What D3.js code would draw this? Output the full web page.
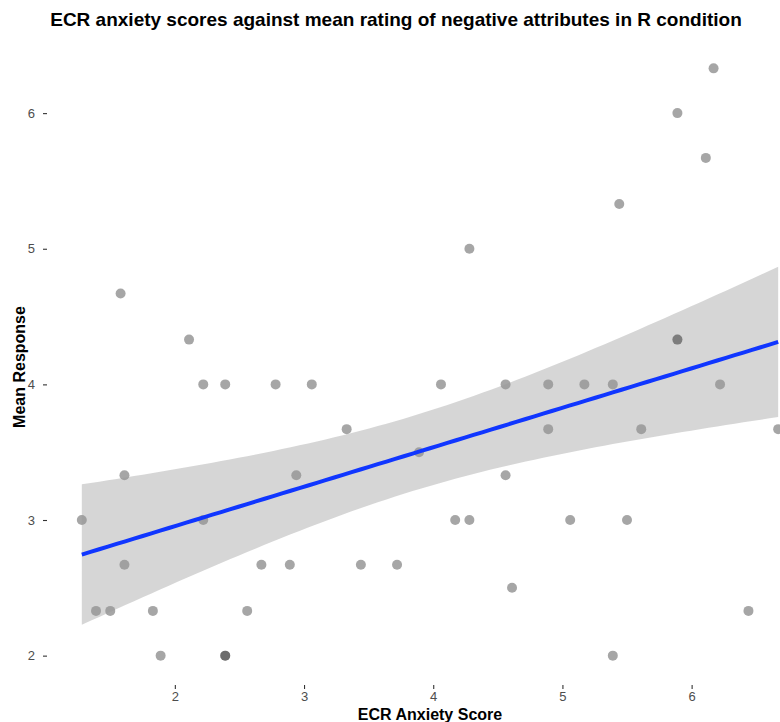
<!DOCTYPE html>
<html>
<head>
<meta charset="utf-8">
<script src="https://cdn.jsdelivr.net/npm/d3@7"></script>
<style>
  html, body { margin: 0; padding: 0; background: #ffffff; }
  svg { display: block; font-family: "Liberation Sans", Arial, Helvetica, sans-serif; }
</style>
</head>
<body>
<svg id="chart" width="780" height="722"></svg>
<script>
// ECR anxiety score for each participant
const anxietyScores = [
  1.28, 1.39, 1.50, 1.58, 1.61, 1.61, 1.83, 1.89, 2.11, 2.22,
  2.22, 2.39, 2.39, 2.39, 2.56, 2.67, 2.78, 2.89, 2.94, 3.06,
  3.33, 3.44, 3.72, 3.89, 4.06, 4.17, 4.28, 4.28, 4.56, 4.56,
  4.61, 4.89, 4.89, 5.06, 5.17, 5.39, 5.39, 5.44, 5.50, 5.61,
  5.89, 5.89, 5.89, 6.11, 6.17, 6.22, 6.44, 6.67
];
// Mean rating of negative attributes (R condition), same order
const meanResponses = [
  3.00, 2.33, 2.33, 4.67, 3.33, 2.67, 2.33, 2.00, 4.33, 3.00,
  4.00, 4.00, 2.00, 2.00, 2.33, 2.67, 4.00, 2.67, 3.33, 4.00,
  3.67, 2.67, 2.67, 3.50, 4.00, 3.00, 5.00, 3.00, 4.00, 3.33,
  2.50, 4.00, 3.67, 3.00, 4.00, 4.00, 2.00, 5.33, 3.00, 3.67,
  6.00, 4.33, 4.33, 5.67, 6.33, 4.00, 2.33, 3.67
];
const xTicks = [2, 3, 4, 5, 6];
const yTicks = [2, 3, 4, 5, 6];

const titleText = "ECR anxiety scores against mean rating of negative attributes in R condition";
const xTitle = "ECR Anxiety Score";
const yTitle = "Mean Response";

const points = anxietyScores.map((x, i) => ({ x, y: meanResponses[i] }));

// Ordinary least squares fit with a 95% confidence band
const n = points.length;
const xbar = d3.mean(points, d => d.x);
const ybar = d3.mean(points, d => d.y);
const sxx = d3.sum(points, d => (d.x - xbar) ** 2);
const sxy = d3.sum(points, d => (d.x - xbar) * (d.y - ybar));
const slope = sxy / sxx;
const intercept = ybar - slope * xbar;
const sse = d3.sum(points, d => (d.y - (intercept + slope * d.x)) ** 2);
const sigma = Math.sqrt(sse / (n - 2));
const tCrit = 2.0129; // t(0.975, df = 46)

const [xMin, xMax] = d3.extent(points, d => d.x);
const [yMin, yMax] = d3.extent(points, d => d.y);
const fit = d3.range(0, 81).map(i => {
  const x = xMin + (xMax - xMin) * i / 80;
  const yhat = intercept + slope * x;
  const se = sigma * Math.sqrt(1 / n + (x - xbar) ** 2 / sxx);
  return { x, yhat, lo: yhat - tCrit * se, hi: yhat + tCrit * se };
});

// Panel geometry with 5% padding on each data range
const panel = { left: 47, right: 813, top: 39, bottom: 685 };
const xPad = (xMax - xMin) * 0.05;
const yPad = (yMax - yMin) * 0.05;
const x = d3.scaleLinear().domain([xMin - xPad, xMax + xPad]).range([panel.left, panel.right]);
const y = d3.scaleLinear().domain([yMin - yPad, yMax + yPad]).range([panel.bottom, panel.top]);

const svg = d3.select("#chart");
svg.append("rect").attr("width", 780).attr("height", 722).attr("fill", "#ffffff");

// Points
svg.append("g")
  .selectAll("circle")
  .data(points)
  .join("circle")
  .attr("cx", d => x(d.x))
  .attr("cy", d => y(d.y))
  .attr("r", 5)
  .attr("fill", "#000000")
  .attr("fill-opacity", 0.35);

// Confidence band
svg.append("path")
  .datum(fit)
  .attr("fill", "#999999")
  .attr("fill-opacity", 0.4)
  .attr("d", d3.area().x(d => x(d.x)).y0(d => y(d.lo)).y1(d => y(d.hi)));

// Fitted line
svg.append("path")
  .datum(fit)
  .attr("fill", "none")
  .attr("stroke", "#1036ff")
  .attr("stroke-width", 4)
  .attr("d", d3.line().x(d => x(d.x)).y(d => y(d.yhat)));

// Axes: ticks and labels only
const xAxis = d3.axisBottom(x).tickValues(xTicks).tickSize(4).tickPadding(3).tickFormat(d3.format("d"));
const gx = svg.append("g").attr("transform", `translate(0,${panel.bottom})`).call(xAxis);
gx.select(".domain").remove();
gx.selectAll(".tick line").attr("stroke", "#333333").attr("stroke-width", 1.1);
gx.selectAll(".tick text").attr("fill", "#4d4d4d").attr("font-size", 13)
  .attr("font-family", "Liberation Sans, Arial, sans-serif");

const yAxis = d3.axisLeft(y).tickValues(yTicks).tickSize(4).tickPadding(8).tickFormat(d3.format("d"));
const gy = svg.append("g").attr("transform", `translate(${panel.left},0)`).call(yAxis);
gy.select(".domain").remove();
gy.selectAll(".tick line").attr("stroke", "#333333").attr("stroke-width", 1.1);
gy.selectAll(".tick text").attr("fill", "#4d4d4d").attr("font-size", 13)
  .attr("font-family", "Liberation Sans, Arial, sans-serif");

// Titles
svg.append("text")
  .attr("x", 396).attr("y", 26)
  .attr("text-anchor", "middle")
  .attr("font-size", 19).attr("font-weight", "bold").attr("fill", "#000000")
  .text(titleText);

svg.append("text")
  .attr("x", (panel.left + panel.right) / 2).attr("y", 720)
  .attr("text-anchor", "middle")
  .attr("font-size", 16).attr("font-weight", "bold").attr("fill", "#000000")
  .text(xTitle);

svg.append("text")
  .attr("transform", `translate(25,${(panel.top + panel.bottom) / 2 + 5}) rotate(-90)`)
  .attr("text-anchor", "middle")
  .attr("font-size", 16).attr("font-weight", "bold").attr("fill", "#000000")
  .text(yTitle);
</script>
</body>
</html>
